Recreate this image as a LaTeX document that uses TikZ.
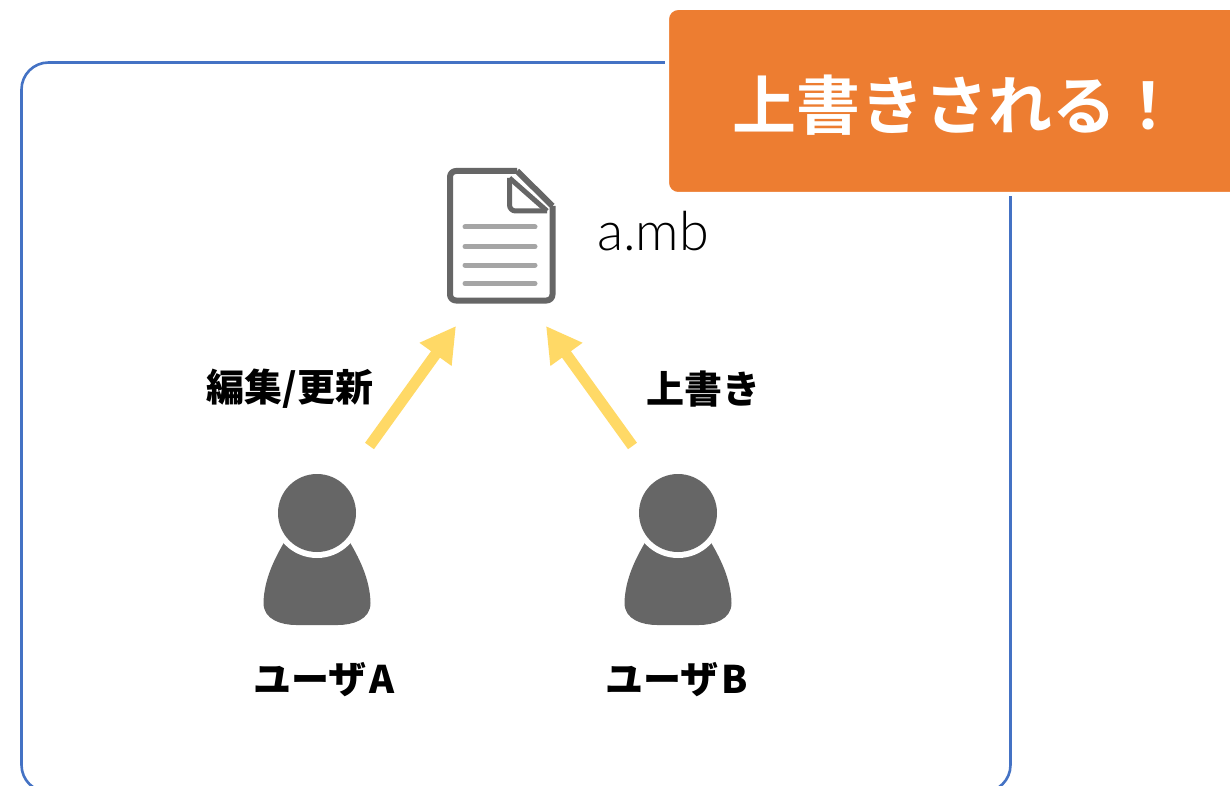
\documentclass[tikz,border=0pt]{standalone}
\usepackage{fontspec}
\usetikzlibrary{arrows.meta}
\newfontfamily\jpfont[BoldFont={Noto Sans CJK JP Black}]{Noto Sans CJK JP}
\newfontfamily\titlefont{Noto Sans CJK JP Bold}
\newfontfamily\namefont{Lato Light}
\definecolor{frameblue}{HTML}{4472C4}
\definecolor{calloutorange}{HTML}{ED7D31}
\definecolor{arrowyellow}{HTML}{FFD966}
\definecolor{icongray}{HTML}{666666}
\definecolor{linegray}{HTML}{A5A5A5}
\tikzset{
  frame/.style={draw=frameblue,line width=2.6pt,rounded corners=27pt},
  callout/.style={fill=calloutorange,draw=white,line width=4pt,rounded corners=11pt},
  bigarrow/.style={draw=arrowyellow,line width=11pt,-{Triangle[length=35pt,width=37pt]}},
  jplabel/.style={font=\jpfont\bfseries\fontsize{38pt}{42pt}\selectfont,text=black,inner sep=0pt},
  doctline/.style={draw=linegray,line width=5pt,line cap=round},
  docoutline/.style={draw=icongray,line width=6pt,line join=round},
  bodygray/.style={fill=icongray,draw=none}
}
\newcommand{\personicon}[1]{%
  \begin{scope}[shift={(#1,0)}]
    \path[bodygray] (285.5,540)
      -- (348.5,540)
      .. controls (358,556) and (370,578) .. (370.5,603)
      .. controls (370.5,620) and (352,625) .. (338,625)
      -- (296,625)
      .. controls (282,625) and (263.5,620) .. (263.5,603)
      .. controls (264,578) and (276,556) .. (285.5,540) -- cycle;
    \fill[white] (317,513) circle (45);
    \fill[icongray] (317,513) circle (39);
  \end{scope}}
\begin{document}
\begin{tikzpicture}[x=1pt,y=-1pt]
\useasboundingbox (0,0) rectangle (1230,786);
\clip (0,0) rectangle (1230,786);
\fill[white] (0,0) rectangle (1230,786);
% frame
\draw[frame] (21.5,792) -- (21.5,62.5) -- (1010.5,62.5) -- (1010.5,792) -- cycle;
% callout
\path[callout] (667,8) -- (1260,8) -- (1260,194) -- (667,194) -- cycle;
\node[font=\titlefont\fontsize{64pt}{68pt}\selectfont,text=white,inner sep=0pt,anchor=center] (title) at (956,105) {上書きされる！};
% document icon
\path[docoutline,rounded corners=6pt] (517,171) -- (450,171) -- (450,300.5) -- (552.5,300.5) -- (552.5,206);
\path[docoutline] (517,171) -- (552.5,206);
\path[docoutline,rounded corners=6pt,line width=5pt] (509.5,178) -- (509.5,211) -- (547,211);
\path[docoutline,line width=5pt] (509.5,178) -- (547,211);
\draw[doctline] (465,227) -- (535,227);
\draw[doctline] (465,246.5) -- (535,246.5);
\draw[doctline] (465,265) -- (535,265);
\draw[doctline] (465,283.5) -- (535,283.5);
\node[font=\namefont\fontsize{54pt}{58pt}\selectfont,text=black,inner sep=0pt,anchor=base west] (fname) at (597,251) {a.mb};
% users
\personicon{0}
\personicon{361}
\node[jplabel] (usera) at (324,680) {ユーザ\hspace{3pt}A};
\node[jplabel] (userb) at (676.5,680) {ユーザ\hspace{3pt}B};
% arrows
\coordinate (astart) at (369.5,446);
\coordinate (aend) at (456,326);
\coordinate (bstart) at (632.5,446);
\coordinate (bend) at (546,326);
\draw[bigarrow] (astart) -- (aend);
\draw[bigarrow] (bstart) -- (bend);
\node[jplabel] (edit) at (290,389) {編集/更新};
\node[jplabel] (over) at (703,389) {上書き};
\end{tikzpicture}
\end{document}
